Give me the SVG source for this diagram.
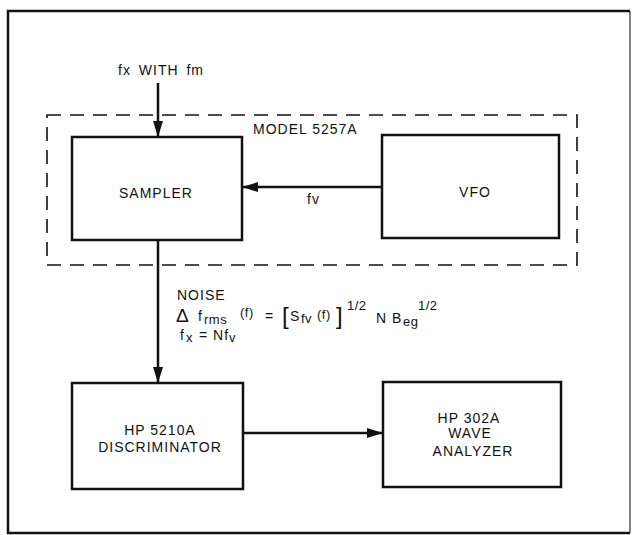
<svg xmlns="http://www.w3.org/2000/svg" width="632" height="535" viewBox="0 0 632 535">
<style>
text{font-family:"Liberation Sans",Arial,sans-serif;font-size:14px;fill:#111;letter-spacing:1px}
.box{fill:#fff;stroke:#111;stroke-width:2.5}
.ln{stroke:#111;stroke-width:2.5;fill:none}
.sub{font-size:13px;letter-spacing:0.5px}
.sm{font-size:13px;letter-spacing:0.5px}
.br{font-size:24px}
.dl{font-size:19px}
</style>
<defs>
<marker id="ah" viewBox="0 0 16 10" refX="16" refY="5" markerWidth="16" markerHeight="10" markerUnits="userSpaceOnUse" orient="auto">
<path d="M0,0 L16,5 L0,10 Z" fill="#111"/>
</marker>
</defs>
<rect x="0" y="0" width="632" height="535" fill="#fff"/>
<path d="M630,11 H8 V533 H630" fill="none" stroke="#111" stroke-width="2.5"/>
<line x1="630" y1="11" x2="630" y2="533" stroke="#333" stroke-width="1.2"/>
<g id="model5257a">
<rect x="47" y="115" width="530" height="150" fill="none" stroke="#111" stroke-width="1.6" stroke-dasharray="14 9"/>
<text x="253" y="134">MODEL 5257A</text>
</g>
<g id="sampler">
<rect class="box" x="72" y="137" width="170" height="103"/>
<text x="156" y="198" text-anchor="middle">SAMPLER</text>
</g>
<g id="vfo">
<rect class="box" x="382" y="135" width="177" height="103"/>
<text x="475" y="197" text-anchor="middle">VFO</text>
</g>
<g id="discriminator">
<rect class="box" x="72" y="383" width="171" height="106"/>
<text x="160" y="435" text-anchor="middle">HP 5210A</text>
<text x="160" y="452" text-anchor="middle">DISCRIMINATOR</text>
</g>
<g id="wave-analyzer">
<rect class="box" x="383" y="382" width="178" height="105"/>
<text x="469" y="423" text-anchor="middle">HP 302A</text>
<text x="470" y="438" text-anchor="middle">WAVE</text>
<text x="473" y="456" text-anchor="middle">ANALYZER</text>
</g>
<g id="connectors">
<line class="ln" x1="158" y1="83" x2="158" y2="137" marker-end="url(#ah)"/>
<line class="ln" x1="382" y1="187" x2="242" y2="187" marker-end="url(#ah)"/>
<line class="ln" x1="158" y1="240" x2="158" y2="383" marker-end="url(#ah)"/>
<line class="ln" x1="243" y1="433" x2="383" y2="433" marker-end="url(#ah)"/>
</g>
<g id="labels">
<text x="161" y="75" text-anchor="middle" word-spacing="3">fx WITH fm</text>
<text x="307" y="204">fv</text>
<text x="177" y="300">NOISE</text>
<text x="176" y="322" class="dl">Δ</text>
<text x="198" y="321">f<tspan class="sub" x="204" dy="3">rms</tspan><tspan class="sm" x="240" dy="-7">(f)</tspan><tspan x="265" dy="4">=</tspan></text>
<text x="282" y="324" class="br">[</text>
<text x="290" y="321">S<tspan class="sub" x="301" dy="2">fv</tspan><tspan class="sm" x="317" dy="-4">(f)</tspan></text>
<text x="336" y="324" class="br">]</text>
<text x="347" y="310" class="sub">1/2</text>
<text x="376" y="323">N</text>
<text x="392" y="323">B<tspan class="sub" x="403" dy="3">eg</tspan></text>
<text x="418" y="310" class="sub">1/2</text>
<text x="180" y="340">f<tspan class="sub" x="186" dy="2">x</tspan><tspan x="199" dy="-2">= Nf</tspan><tspan class="sub" dy="2">v</tspan></text>
</g>
</svg>
